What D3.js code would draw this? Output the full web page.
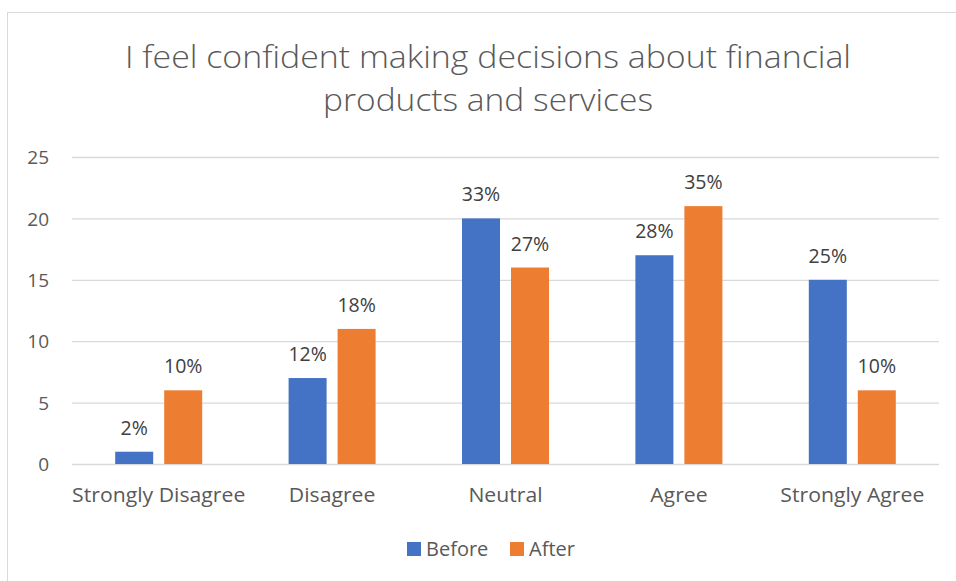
<!DOCTYPE html>
<html>
<head>
<meta charset="utf-8">
<script src="https://cdn.jsdelivr.net/npm/d3@7"></script>
<style>
  html, body { margin: 0; padding: 0; background: #ffffff; }
  svg { display: block; font-family: "Open Sans", "Noto Sans", sans-serif; }
</style>
</head>
<body>
<svg id="chart" width="956" height="581"></svg>
<script>
// Survey responses: number of people per answer, before and after the course
const categories = ["Strongly Disagree", "Disagree", "Neutral", "Agree", "Strongly Agree"];
const seriesNames = ["Before", "After"];
const beforeCounts = [1, 7, 20, 17, 15];
const afterCounts = [6, 11, 16, 21, 6];
const beforeLabels = ["2%", "12%", "33%", "28%", "25%"];
const afterLabels = ["10%", "18%", "27%", "35%", "10%"];
const yTicks = [0, 5, 10, 15, 20, 25];
const titleLines = ["I feel confident making decisions about financial", "products and services"];

const colors = { Before: "#4472c4", After: "#ed7d31" };

const svg = d3.select("#chart");

// chart frame
svg.append("rect")
  .attr("x", 7.5).attr("y", 12.5)
  .attr("width", 960).attr("height", 600)
  .attr("fill", "#ffffff")
  .attr("stroke", "#d9d9d9").attr("stroke-width", 1);

const plot = { left: 72, right: 939, top: 157, bottom: 464 };

const x0 = d3.scaleBand()
  .domain(categories)
  .range([plot.left, plot.right])
  .paddingInner(0).paddingOuter(0);

const y = d3.scaleLinear()
  .domain([0, 25])
  .range([plot.bottom, plot.top]);

// title
svg.append("g").selectAll("text")
  .data(titleLines)
  .join("text")
  .attr("x", 488)
  .attr("y", (d, i) => 68 + i * 43)
  .attr("text-anchor", "middle")
  .attr("font-size", 32)
  .attr("font-weight", 300)
  .attr("fill", "#595959")
  .attr("textLength", (d, i) => i === 0 ? 726 : 330)
  .attr("lengthAdjust", "spacingAndGlyphs")
  .text(d => d);

// horizontal gridlines + value axis labels
const yAxis = d3.axisLeft(y)
  .tickValues(yTicks)
  .tickSize(-(plot.right - plot.left))
  .tickPadding(23)
  .tickFormat(d3.format("d"));

const gy = svg.append("g")
  .attr("transform", `translate(${plot.left},0)`)
  .call(yAxis);
gy.select(".domain").remove();
gy.selectAll(".tick line").attr("stroke", "#d9d9d9").attr("stroke-width", 1.3);
gy.selectAll(".tick text")
  .attr("fill", "#595959")
  .attr("font-size", 19)
  .attr("font-family", "Open Sans, sans-serif")
  .attr("dy", "0.35em");

// category axis labels
const xAxis = d3.axisBottom(x0).tickSize(0).tickPadding(24);
const gx = svg.append("g")
  .attr("transform", `translate(0,${plot.bottom})`)
  .call(xAxis);
gx.select(".domain").remove();
gx.selectAll(".tick text")
  .attr("fill", "#595959")
  .attr("font-size", 20)
  .attr("font-family", "Open Sans, sans-serif")
  .attr("textLength", function () { return this.getComputedTextLength() * 1.06; })
  .attr("lengthAdjust", "spacingAndGlyphs");

// bars
const barW = 38, gap = 11;
const series = [
  { name: "Before", values: beforeCounts, labels: beforeLabels, offset: -(gap / 2 + barW) },
  { name: "After", values: afterCounts, labels: afterLabels, offset: gap / 2 }
];

series.forEach(s => {
  const g = svg.append("g");
  const cx = c => x0(c) + x0.bandwidth() / 2 + s.offset;
  g.selectAll("rect")
    .data(categories)
    .join("rect")
    .attr("x", c => cx(c))
    .attr("y", (c, i) => y(s.values[i]))
    .attr("width", barW)
    .attr("height", (c, i) => y(0) - y(s.values[i]))
    .attr("fill", colors[s.name]);

  g.selectAll("text")
    .data(categories)
    .join("text")
    .attr("x", c => cx(c) + barW / 2)
    .attr("y", (c, i) => y(s.values[i]) - 17)
    .attr("text-anchor", "middle")
    .attr("font-size", 19.5)
    .attr("fill", "#404040")
    .text((c, i) => s.labels[i]);
});

// legend
const legend = svg.append("g");
const legendItems = [
  { name: "Before", x: 407 },
  { name: "After", x: 510 }
];
legendItems.forEach(item => {
  legend.append("rect")
    .attr("x", item.x).attr("y", 542)
    .attr("width", 14).attr("height", 14)
    .attr("fill", colors[item.name]);
  legend.append("text")
    .attr("x", item.x + 19).attr("y", 556)
    .attr("font-size", 20)
    .attr("fill", "#595959")
    .text(item.name);
});
</script>
</body>
</html>
